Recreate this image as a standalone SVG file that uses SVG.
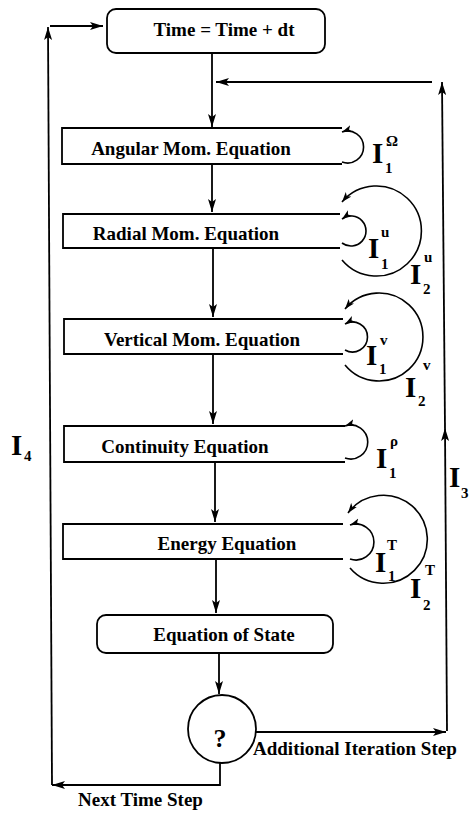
<svg xmlns="http://www.w3.org/2000/svg" width="469" height="817" viewBox="0 0 469 817">
<style>
.ln{fill:none;stroke:#000;stroke-width:1.8}
.lp{fill:none;stroke:#000;stroke-width:1.6}
.t{font-family:"Liberation Serif","Times New Roman",serif;font-weight:bold;font-size:19px;fill:#000}
.big{font-family:"Liberation Serif","Times New Roman",serif;font-weight:bold;font-size:29px;fill:#000}
.sm{font-family:"Liberation Serif","Times New Roman",serif;font-weight:bold;font-size:15px;fill:#000}
</style>
<defs>
<marker id="ah" markerUnits="userSpaceOnUse" markerWidth="13" markerHeight="8" refX="13" refY="4" orient="auto">
<path d="M0,0 L13,4 L0,8 L3,4 z" fill="#000"/>
</marker>
<marker id="ahs" markerUnits="userSpaceOnUse" markerWidth="10" markerHeight="8" refX="10" refY="4" orient="auto">
<path d="M0,0.5 L10,4 L0,7.5 L2.5,4 z" fill="#000"/>
</marker>
</defs>
<rect width="469" height="817" fill="#fff"/>

<g id="connectors">
<line class="ln" x1="212" y1="53" x2="212" y2="127" marker-end="url(#ah)"/>
<line class="ln" x1="212" y1="164" x2="212" y2="212" marker-end="url(#ah)"/>
<line class="ln" x1="213" y1="248" x2="213" y2="317" marker-end="url(#ah)"/>
<line class="ln" x1="213" y1="354" x2="213" y2="424" marker-end="url(#ah)"/>
<line class="ln" x1="215" y1="462" x2="215" y2="522" marker-end="url(#ah)"/>
<line class="ln" x1="216" y1="559" x2="216" y2="613" marker-end="url(#ah)"/>
<line class="ln" x1="219" y1="653" x2="219" y2="694" marker-end="url(#ah)"/>
<line class="ln" x1="256" y1="732" x2="446" y2="732" marker-end="url(#ah)"/>
<line class="ln" x1="447" y1="731" x2="445" y2="428" marker-end="url(#ah)"/>
<line class="ln" x1="445" y1="428" x2="442" y2="82" marker-end="url(#ah)"/>
<line class="ln" x1="432" y1="82" x2="216" y2="82" marker-end="url(#ah)"/>
<polyline class="ln" points="220,763 220,785 52,785" marker-end="url(#ah)"/>
<line class="ln" x1="52" y1="785" x2="48" y2="27" marker-end="url(#ah)"/>
<line class="ln" x1="50" y1="26" x2="103" y2="26" marker-end="url(#ah)"/>
<path class="lp" d="M342,162 A16,16 0 1 0 342,132" marker-end="url(#ahs)"/>
<path class="lp" d="M342,243 A15,15 0 1 0 342,219" marker-end="url(#ahs)"/>
<path class="lp" d="M342,260 A45,45 0 1 0 342,202" marker-end="url(#ahs)"/>
<path class="lp" d="M345,350 A15,15 0 1 0 345,324" marker-end="url(#ahs)"/>
<path class="lp" d="M345,365 A44,44 0 1 0 345,309" marker-end="url(#ahs)"/>
<path class="lp" d="M345,458 A17,17 0 1 0 345,426" marker-end="url(#ahs)"/>
<path class="lp" d="M350,559 A18,18 0 1 0 350,525" marker-end="url(#ahs)"/>
<path class="lp" d="M350,568 A44,44 0 1 0 348,513" marker-end="url(#ahs)"/>
</g>

<g id="time">
<rect class="ln" x="107" y="9" width="218" height="44" rx="9"/>
<text class="t" x="224" y="36" text-anchor="middle">Time = Time + dt</text>
</g>
<g id="angular">
<path class="ln" d="M342,128 H62 V164 H342"/>
<text class="t" x="191" y="155" text-anchor="middle">Angular Mom. Equation</text>
</g>
<g id="radial">
<path class="ln" d="M340,214 H63 V248 H340"/>
<text class="t" x="186" y="240" text-anchor="middle">Radial Mom. Equation</text>
</g>
<g id="vertical">
<path class="ln" d="M343,319 H64 V354 H343"/>
<text class="t" x="202" y="346" text-anchor="middle">Vertical Mom. Equation</text>
</g>
<g id="continuity">
<path class="ln" d="M345,426 H64 V462 H345"/>
<text class="t" x="185" y="453" text-anchor="middle">Continuity Equation</text>
</g>
<g id="energy">
<path class="ln" d="M343,524 H63 V559 H343"/>
<text class="t" x="227" y="550" text-anchor="middle">Energy Equation</text>
</g>
<g id="eos">
<rect class="ln" x="97" y="615" width="236" height="38" rx="9"/>
<text class="t" x="224" y="641" text-anchor="middle">Equation of State</text>
</g>
<g id="decision">
<circle class="ln" cx="222" cy="729" r="34"/>
<text class="t" x="220" y="747" text-anchor="middle" style="font-size:26px">?</text>
</g>

<g id="labels">
<text class="t" x="253" y="755">Additional Iteration Step</text>
<text class="t" x="78" y="806">Next Time Step</text>
<text class="big" x="372" y="163">I</text><text class="sm" x="385" y="173">1</text><text class="sm" x="386" y="146">Ω</text>
<text class="big" x="368" y="258">I</text><text class="sm" x="381" y="269">1</text><text class="sm" x="381" y="237">u</text>
<text class="big" x="410" y="284">I</text><text class="sm" x="423" y="294">2</text><text class="sm" x="424" y="262">u</text>
<text class="big" x="366" y="365">I</text><text class="sm" x="379" y="374">1</text><text class="sm" x="380" y="345">v</text>
<text class="big" x="405" y="397">I</text><text class="sm" x="418" y="406">2</text><text class="sm" x="423" y="370">v</text>
<text class="big" x="376" y="468">I</text><text class="sm" x="389" y="478">1</text><text class="sm" x="390" y="446">ρ</text>
<text class="big" x="375" y="572">I</text><text class="sm" x="388" y="581">1</text><text class="sm" x="387" y="550">T</text>
<text class="big" x="410" y="598">I</text><text class="sm" x="423" y="610">2</text><text class="sm" x="425" y="575">T</text>
<text class="big" x="11" y="455">I</text><text class="sm" x="24" y="461">4</text>
<text class="big" x="449" y="487">I</text><text class="sm" x="461" y="498">3</text>
</g>
</svg>
